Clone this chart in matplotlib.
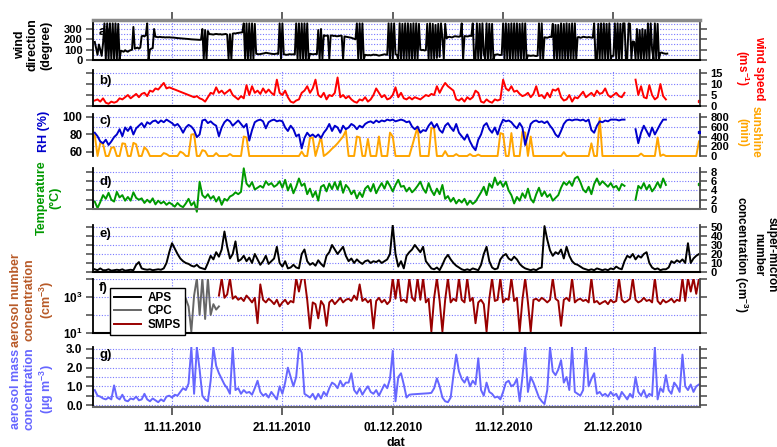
import numpy as np
import pandas as pd
import matplotlib
matplotlib.use('Agg')
import matplotlib.pyplot as plt
import matplotlib.dates as mdates

nan = np.nan

# wind direction, 3-hourly (00 .. 21 h), one day per row
# 2010-11-04 00:00 .. 2010-12-25 21:00
wind_dir = [
    175, 110, 50, 150, 100, 40, 160, 355,
    5, 355, 5, 355, 5, 355, 5, 355,
    5, 350, 10, 90, 85, 80, 95, 85,
    80, 90, 95, 100, 320, 110, 115, 120,
    110, 120, 230, 235, 228, 240, 355, 5,
    100, 110, 115, 300, 225, 222, 220, 224,
    222, 220, 221, 218, 220, 219, 220, 218,
    218, 217, 215, 214, 212, 211, 210, 209,
    208, 207, 205, 204, 203, 201, 200, 199,
    198, 197, 196, 195, 195, 196, 300, 10,
    290, 5, 280, 250, 250, 248, 246, 250,
    252, 250, 248, 250, 246, 248, 250, 252,
    245, 10, 250, 5, 255, 258, 256, 260,
    262, 264, 265, 268, 355, 5, 355, 5,
    355, 5, 355, 5, 350, 60, 58, 55,
    58, 60, 62, 65, 70, 68, 65, 62,
    60, 58, 57, 60, 62, 58, 355, 5,
    355, 55, 52, 50, 52, 56, 55, 54,
    55, 53, 355, 5, 355, 5, 355, 5,
    355, 5, 355, 5, 60, 58, 55, 57,
    58, 56, 290, 5, 300, 10, 240, 235,
    235, 238, 10, 236, 238, 232, 235, 230,
    230, 232, 236, 234, 5, 228, 225, 222,
    220, 218, 215, 210, 205, 200, 355, 5,
    355, 5, 355, 5, 50, 48, 46, 48,
    45, 48, 52, 50, 50, 46, 42, 45,
    48, 50, 55, 52, 50, 355, 5, 355,
    5, 355, 55, 50, 5, 355, 5, 350,
    10, 355, 5, 355, 5, 350, 10, 355,
    5, 355, 10, 350, 100, 95, 98, 92,
    95, 350, 10, 355, 5, 350, 15, 340,
    20, 350, 30, 355, 215, 10, 350, 210,
    220, 225, 222, 218, 225, 230, 228, 225,
    225, 230, 355, 5, 232, 230, 228, 230,
    235, 232, 355, 5, 10, 355, 5, 350,
    5, 355, 60, 10, 355, 5, 350, 10,
    350, 5, 50, 52, 55, 50, 48, 50,
    355, 5, 355, 10, 350, 5, 355, 5,
    355, 10, 355, 5, 350, 10, 355, 5,
    355, 5, 45, 42, 40, 42, 44, 40,
    38, 42, 355, 5, 355, 10, 220, 218,
    215, 220, 225, 222, 350, 15, 340, 5,
    340, 10, 355, 5, 350, 10, 355, 5,
    350, 10, 355, 5, 355, 10, 220, 222,
    215, 218, 225, 222, 220, 218, 222, 220,
    218, 215, 355, 5, 10, 350, 5, 355,
    5, 355, 10, 350, 5, 355, 10, 40,
    40, 355, 5, 355, 5, 350, 10, 355,
    355, 5, 15, 355, 350, 10, 180, 175,
    10, 300, 5, 290, 5, 300, 10, 290,
    15, 355, 5, 355, 100, 10, 355, 5,
    350, 10, 70, 72, 65, 62, 60, 62,
]

# 6-hourly values (00, 06, 12, 18 h), two days per row
# meteorology: 2010-11-04 00:00 .. 2010-12-25 18:00
wind_speed = [
    2.5, 3, 2, 3.5,      1.5, 1, 2, 1.5,
    2, 3.5, 3, 4,        5, 3.5, 4.5, 5.5,
    4, 5.5, 6, 4.5,      7, 6.5, 8, 7.5,
    9, 10.5, 8, 8.5,     8, 7.5, 7, 6.5,
    6, 5.5, 5, 4.5,      4, 4.5, 3.5, 3,
    2, 4, 6, 5.5,        8.5, 6, 7, 5.5,
    6.5, 7.5, 5, 4,      3, 4.5, 3.5, 9.5,
    5, 9, 6, 7,          5.5, 8, 6, 7.5,
    6, 5, 12, 6,         5, 7, 4, 2,
    1.5, 2.5, 3, 6,      7, 9, 6, 8,
    12, 5, 4, 6,         3, 5, 4.5, 6,
    13, 4, 5, 3.5,       4.5, 3, 2, 1.5,
    3, 2.5, 4, 2,        3, 5, 8, 6,
    4, 5, 3, 3.5,        5, 8.5, 4, 6,
    3.5, 3, 4, 3,        4, 3.5, 3, 4,
    5, 4.5, 5.5, 5,      9, 6, 8.5, 10.5,
    9, 8, 7, 3,          2.5, 3.5, 2, 4,
    3, 4, 7, 6,          2, 1.5, 3, 2,
    1.5, 3, 2.5, 3,      12, 8, 7, 9,
    6.5, 7, 5.5, 4.5,    5, 6, 4, 5.5,
    9, 4.5, 5, 3.5,      6, 4, 7.5, 7,
    8, 4, 2.5, 3,        5, 2, 4, 3.5,
    5, 6.5, 4, 5,        6, 4.5, 7, 5.5,
    6, 8, 5, 4,          5, 6, 4.5, 4,
    6, nan, nan, nan,    12, 5, 9, 4,
    3.5, 9.5, 5, 3,      4, 10, 4.5, 3,
]
rel_hum = [
    82, 78, 72, 70,      74, 68, 72, 77,
    80, 86, 78, 88,      84, 89, 80, 87,
    90, 93, 88, 94,      92, 95, 96, 93,
    96, 94, 97, 95,      93, 90, 92, 88,
    82, 88, 91, 89,      85, 77, 80, 96,
    97, 93, 95, 92,      90, 78, 88, 94,
    97, 95, 90, 93,      96, 92, 88, 92,
    73, 85, 94, 96,      97, 95, 87, 94,
    96, 97, 95, 96,      95, 88, 84, 90,
    86, 78, 80, 64,      76, 82, 78, 80,
    77, 80, 76, 82,      86, 92, 84, 90,
    88, 82, 90, 86,      88, 92, 90, 86,
    90, 88, 92, 94,      95, 93, 96, 94,
    96, 95, 97, 96,      97, 95, 96, 97,
    96, 94, 95, 89,      86, 89, 82, 85,
    84, 90, 94, 88,      92, 85, 82, 90,
    93, 88, 84, 92,      82, 78, 74, 80,
    72, 66, 62, 74,      80, 90, 93, 86,
    82, 88, 80, 90,      97, 95, 96, 94,
    90, 87, 93, 88,      68, 80, 92, 95,
    96, 94, 95, 93,      95, 90, 86, 80,
    77, 84, 92, 96,      97, 96, 97, 97,
    96, 97, 95, 97,      85, 82, 90, 95,
    94, 96, 95, 97,      97, 97, 96, 97,
    97, nan, nan, nan,   86, 70, 82, 90,
    84, 78, 88, 80,      86, 92, 97, 97,
]
temperature = [
    1.6, 0.2, 1.5, 3.0,  2.2, 3.5, 2.0, 1.6,
    3.7, 2.5, 3.0, 1.8,  2.6, 1.8, 3.6, 2.4,
    2.0, 2.3, 1.3, 2.0,  1.4, 2.3, 1.0, 1.8,
    1.2, 1.6, 0.9, 1.4,  1.0, 0.5, 1.3, 0.7,
    0.4, 1.2, 2.2, 0.8,  1.5, -0.6, 5.9, 3.0,
    2.4, 3.2, 2.2, 2.8,  1.6, 2.6, 0.9, 2.2,
    1.8, 2.7, 3.0, 3.6,  3.2, 3.7, 8.8, 5.5,
    4.8, 5.8, 4.2, 4.6,  5.0, 4.6, 6.0, 5.2,
    5.6, 4.8, 5.2, 6.0,  4.6, 6.3, 4.0, 5.4,
    3.4, 4.8, 6.6, 5.0,  5.5, 3.2, 4.4, 2.6,
    3.8, 1.8, 4.8, 5.2,  3.8, 5.5, 4.3, 5.8,
    4.2, 6.0, 3.5, 5.2,  4.5, 3.2, 4.0, 2.3,
    3.6, 2.6, 4.4, 5.0,  3.8, 5.4, 3.4, 4.6,
    5.6, 4.4, 6.0, 5.0,  3.8, 5.2, 6.3, 4.8,
    5.0, 3.8, 4.6, 3.6,  4.2, 5.0, 5.9, 4.4,
    3.5, 5.6, 4.0, 3.0,  4.4, 3.2, 5.2, 2.2,
    2.8, 1.6, 2.4, 1.2,  2.0, 1.4, 2.2, 0.9,
    1.8, 1.1, 1.6, 2.6,  3.6, 4.8, 3.0, 5.5,
    4.6, 6.8, 5.2, 6.0,  4.8, 5.9, 4.0, 3.0,
    1.2, 2.6, 1.8, 3.4,  2.4, 4.4, 2.2, 1.4,
    3.2, 4.6, 2.8, 3.8,  2.6, 3.2, 1.8, 2.4,
    3.0, 4.6, 5.8, 5.2,  6.0, 5.0, 6.6, 7.0,
    5.8, 4.2, 3.6, 4.8,  3.2, 5.4, 6.6, 5.2,
    6.0, 5.4, 4.8, 5.6,  4.6, 5.0, 4.0, 5.4,
    5.0, nan, nan, nan,  2.0, 5.0, 4.4, 5.6,
    4.2, 5.2, 3.8, 4.6,  5.8, 4.6, 6.6, 5.2,
]
# last isolated readings on 2010-12-28 18:00
edge_wind_speed, edge_rel_hum, edge_temperature = 2.3, 83, 5.4

# sunshine duration (min): 2010-11-04 00:00 .. 2010-12-28 18:00
sunshine = [
    430, 0, 270, 250,    0, 0, 170, 180,
    0, 0, 260, 250,      0, 0, 270, 240,
    0, 0, 180, 120,      0, 0, 0, 0,
    0, 60, 40, 0,        0, 0, 0, 90,
    60, 0, 0, 440,       450, 0, 0, 120,
    100, 0, 0, 0,        60, 0, 0, 0,
    0, 40, 0, 0,         0, 0, 400, 380,
    0, 0, 0, 0,          0, 0, 0, 0,
    0, 0, 0, 0,          0, 0, 0, 0,
    0, 0, 0, 90,         0, 0, 370, 380,
    0, 200, 400, 0,      40, 90, 150, 200,
    260, 330, 400, 520,  0, 0, 0, 400,
    380, 0, 0, 350,      0, 0, 0, 400,
    0, 0, 0, 480,        400, 0, 0, 0,
    0, 0, 0, 200,        400, 600, 0, 0,
    0, 0, 580, 560,      0, 0, 0, 100,
    0, 0, 0, 40,         0, 0, 0, 0,
    40, 0, 0, 30,        0, 0, 0, 0,
    0, 0, 0, 470,        450, 0, 0, 470,
    0, 0, 0, 500,        480, 0, 400, 0,
    0, 0, 0, 0,          0, 0, 0, 0,
    0, 0, 80, 0,         0, 0, 0, 0,
    0, 0, 0, 0,          260, 0, 0, 780,
    0, 0, 0, 0,          0, 0, 0, 0,
    0, 0, 0, 0,          0, 0, 50, 0,
    0, 0, 0, 0,          380, 0, 30, 0,
    0, 0, 0, 0,          0, 0, 0, 0,
    0, 0, 0, 300,
]
# APS super-micron number (cm-3): 2010-11-04 00:00 .. 2010-12-28 18:00
super_micron = [
    3, 2, 4, 2,          2, 3, 1.5, 2,
    2.5, 2, 3, 1.5,      2, 2.5, 2, 8,
    11, 4, 3, 2.5,       3, 2, 2.5, 3,
    2.5, 4, 10, 22,      32, 26, 20, 15,
    12, 10, 9, 7,        6, 8, 5, 4,
    3, 10, 18, 14,       22, 17, 25, 45,
    28, 15, 20, 34,      12, 14, 18, 12,
    16, 10, 20, 14,      8, 12, 18, 9,
    12, 15, 28, 10,      6, 12, 4, 5,
    8, 5, 4, 20,         25, 12, 8, 10,
    7, 13, 9, 6,         18, 22, 30, 25,
    20, 24, 28, 18,      12, 15, 10, 14,
    11, 9, 12, 13,       10, 12, 11, 13,
    10, 12, 14, 20,      52, 20, 6, 12,
    4, 18, 22, 25,       30, 26, 22, 28,
    12, 8, 4, 3,         5, 2, 8, 15,
    19, 14, 10, 7,       5, 3, 2, 3,
    2, 4, 3, 2,          8, 20, 28, 12,
    5, 3, 4, 14,         18, 20, 15, 13,
    17, 14, 9, 6,        4, 3, 2, 3,
    2, 4, 5, 51,         36, 24, 18, 22,
    20, 25, 15, 28,      18, 12, 9, 8,
    6, 4, 3, 2,          3, 2, 4, 3,
    2, 3, 2, 4,          3, 6, 4, 3,
    12, 18, 16, 20,      14, 18, 16, 20,
    22, 10, 5, 3,        4, 2, 3, 3,
    5, 12, 10, 13,       11, 14, 10, 32,
    10, 15, 18, 20,
]
# CPC number (cm-3): 2010-11-12 06:00 .. 2010-11-15 06:00
cpc_number = [800, 300, 12, 1200, 11000, 100, 11000, 60, 11000, 100, 400, 200, 300]
# SMPS number (cm-3): 2010-11-15 06:00 .. 2010-12-28 18:00
smps_number = [
    1200, 11000, 900,
    1400, 11000, 800, 1100,   700, 900, 600, 1200,
    800, 500, 900, 35,        5000, 700, 500, 800,
    600, 400, 700, 300,       500, 700, 400, 600,
    500, 11000, 2000, 11000,  11000, 700, 18, 500,
    400, 65, 600, 350,        25, 500, 700, 400,
    600, 900, 500, 700,       800, 600, 1200, 700,
    5000, 600, 800, 500,      700, 18, 600, 900,
    500, 700, 400, 600,       11000, 800, 11000, 600,
    700, 500, 11000, 900,     600, 11000, 700, 11000,
    500, 800, 12, 900,        11000, 600, 12, 700,
    11000, 500, 800, 600,     11000, 700, 500, 11000,
    600, 900, 35, 500,        700, 400, 12, 800,
    11000, 600, 700, 11000,   500, 800, 700, 11000,
    600, 900, 12, 700,        11000, 500, 12, 700,
    800, 600, 900, 700,       500, 700, 11000, 800,
    600, 25, 700, 900,        600, 11000, 500, 700,
    800, 600, 700, 500,       11000, 500, 600, 400,
    500, 600, 400, 700,       500, 600, 11000, 700,
    500, 600, 800, 11000,     700, 500, 600, 900,
    600, 700, 500, 11000,     600, 400, 700, 500,
    600, 800, 500, 700,       600, 11000, 600, 11000,
    2000, 11000, 1500, 11000,
]
# aerosol mass (ug m-3): 2010-11-04 00:00 .. 2010-12-28 18:00
aerosol_mass = [
    0.8, 0.5, 0.45, 0.35,   0.3, 0.4, 0.3, 1.05,
    0.4, 0.3, 0.55, 0.25,   0.2, 0.35, 0.3, 0.45,
    0.25, 0.3, 0.6, 0.3,    0.2, 0.35, 0.25, 0.15,
    0.3, 0.2, 0.45, 0.5,    0.4, 0.55, 0.5, 0.7,
    0.9, 0.8, 1.15, 3.1,    0.6, 3.1, 1.9, 0.5,
    0.3, 0.2, 1.3, 3.1,     2.1, 1.7, 1.4, 1.1,
    0.9, 0.6, 3.1, 0.8,     0.9, 0.6, 0.8, 0.65,
    0.7, 0.55, 0.9, 1.3,    0.7, 0.5, 0.6, 0.4,
    0.7, 0.5, 0.3, 1.0,     0.6, 1.2, 2.0, 1.5,
    1.0, 1.5, 3.1, 2.8,     0.6, 0.5, 0.4, 0.6,
    0.3, 0.6, 0.35, 0.7,    0.5, 0.9, 1.2, 1.1,
    0.9, 1.3, 1.0, 1.2,     1.2, 1.7, 0.8, 0.6,
    0.9, 0.55, 0.8, 1.0,    0.7, 0.6, 0.8, 0.5,
    0.8, 1.1, 0.9, 1.4,     2.9, 0.2, 1.5, 1.7,
    1.1, 0.4, 0.55, 0.57,   0.58, 0.59, 0.6, 0.61,
    0.62, 0.63, 0.65, 0.9,  1.43, 1.0, 0.4, 0.2,
    0.15, 0.4, 1.6, 2.7,    1.8, 1.4, 1.2, 1.5,
    1.0, 1.3, 1.1, 2.5,     0.8, 0.5, 1.2, 0.7,
    0.6, 0.4, 0.45, 0.3,    0.7, 1.2, 1.3, 1.0,
    1.1, 1.4, 0.2, 1.5,     3.1, 0.7, 1.5, 1.2,
    0.8, 0.4, 0.2, 0.05,    0.8, 3.1, 1.8, 1.6,
    1.9, 2.4, 1.2, 1.5,     0.8, 3.1, 0.7, 0.6,
    0.5, 0.8, 3.1, 1.0,     1.4, 1.7, 0.6, 0.7,
    0.5, 0.6, 0.45, 0.7,    0.5, 0.6, 0.3, 0.7,
    0.5, 0.3, 0.6, 0.4,     1.5, 0.7, 0.5, 0.8,
    0.4, 0.6, 0.5, 3.1,     0.3, 0.9, 0.7, 1.6,
    0.8, 0.6, 1.2, 1.0,     0.7, 2.7, 1.0, 0.8,
    1.1, 0.7, 1.0, 1.1,
]

date_ticks = pd.to_datetime(['2010-11-11', '2010-11-21', '2010-12-01',
                             '2010-12-11', '2010-12-21'])
edge_time = pd.Timestamp('2010-12-28 18:00')


def series_time(start, values, step='6h'):
    return pd.date_range(start, periods=len(values), freq=step)


plt.rcParams['font.family'] = ['Liberation Sans', 'DejaVu Sans']
plt.rcParams['font.weight'] = 'bold'
plt.rcParams['font.size'] = 8.5
plt.rcParams['mathtext.fontset'] = 'custom'
plt.rcParams['mathtext.rm'] = 'Liberation Sans:bold'
plt.rcParams['mathtext.it'] = 'Liberation Sans:bold'
plt.rcParams['mathtext.bf'] = 'Liberation Sans:bold'
plt.rcParams['mathtext.default'] = 'bf'

W, H = 777, 447
fig = plt.figure(figsize=(W / 100, H / 100), dpi=100)
x_lo, x_hi = pd.Timestamp('2010-11-03 20:10'), pd.Timestamp('2010-12-28 20:10')

GRID = dict(color='#7878ff', linestyle=(0, (1, 1.5)), linewidth=0.8, zorder=0)
TICK = '#555555'
LW = 1.4


def panel(top, bottom):
    return fig.add_axes([93 / W, 1 - bottom / H, 607 / W, (bottom - top) / H])


def frame(ax, ylim, ticks, grid, left=False, right=False, labels=None,
          log=False, vgrid=True, bottom_color='black'):
    if log:
        ax.set_yscale('log')
    ax.set_xlim(x_lo, x_hi)
    ax.set_ylim(*ylim)
    ax.set_yticks(ticks)
    if labels is not None:
        ax.set_yticklabels(labels)
    ax.minorticks_off()
    ax.tick_params(axis='x', which='both', bottom=False, top=False,
                   labelbottom=False)
    ax.tick_params(axis='y', direction='out', length=5, width=1.2, color=TICK,
                   left=True, right=True, labelleft=left, labelright=right,
                   pad=2.5, labelsize=8.5)
    ax.spines['top'].set_visible(False)
    ax.spines['left'].set_linewidth(1.3)
    ax.spines['right'].set_linewidth(1.3)
    ax.spines['right'].set_color('#444444')
    ax.spines['bottom'].set_linewidth(1.5)
    ax.spines['bottom'].set_color(bottom_color)
    if vgrid:
        for t in date_ticks:
            ax.axvline(t, **GRID)
    for g in grid:
        ax.axhline(g, **GRID)


def ftext(x, y, s, **kw):
    kw.setdefault('ha', 'center')
    kw.setdefault('va', 'center')
    fig.text(x / W, 1 - y / H, s, fontweight='bold', **kw)


# a) wind direction
ax_a = panel(20, 60)
ax_a.plot(series_time('2010-11-04', wind_dir, '3h'), wind_dir, color='black',
          lw=LW)
frame(ax_a, (0, 387), [0, 100, 200, 300], range(50, 400, 50), left=True)
ax_a.tick_params(axis='y', labelsize=8)
ax_a.spines['top'].set_visible(True)
ax_a.spines['top'].set_color('#8a8a8a')
ax_a.spines['top'].set_linewidth(2.5)
ax_a.set_xticks(date_ticks)
ax_a.tick_params(axis='x', top=True, direction='out', length=6, width=1.3,
                 color=TICK, labeltop=False)

# b) wind speed
ax_b = panel(70, 106)
ax_b.plot(series_time('2010-11-04', wind_speed), wind_speed, color='#ff0000', lw=LW)
ax_b.plot([edge_time], [edge_wind_speed], 's', color='#ff0000', ms=2)
frame(ax_b, (0, 16.4), [0, 5, 10, 15], [5, 10, 15], right=True)

# c) relative humidity and sunshine
ax_c = panel(114, 156)
ax_s = ax_c.twinx()
ax_c.set_zorder(ax_s.get_zorder() + 1)
ax_c.patch.set_visible(False)
ax_s.plot(series_time('2010-11-04', sunshine), sunshine, color='#ffa500',
          lw=LW, clip_on=False)
ax_c.plot(series_time('2010-11-04', rel_hum), rel_hum, color='#0000cc', lw=LW)
ax_c.plot([edge_time], [edge_rel_hum], 's', color='#0000cc', ms=2)
frame(ax_c, (55.4, 103.4), [60, 80, 100], [], left=True, vgrid=False)
frame(ax_s, (0, 862), [0, 200, 400, 600, 800], [200, 400, 600, 800], right=True)
ax_c.tick_params(axis='y', right=False)
ax_s.tick_params(axis='y', left=False)
ax_c.spines['right'].set_visible(False)
ax_s.spines['left'].set_visible(False)
ax_c.spines['bottom'].set_visible(False)
ax_s.spines['bottom'].set_visible(False)

# d) temperature
ax_d = panel(168, 209)
ax_d.plot(series_time('2010-11-04', temperature), temperature, color='#009900',
          lw=LW, clip_on=False)
ax_d.plot([edge_time], [edge_temperature], 's', color='#009900', ms=2)
frame(ax_d, (0, 8.86), [0, 2, 4, 6, 8], [2, 4, 6, 8], right=True,
      bottom_color='#666666')

# e) super-micron number concentration
ax_e = panel(225, 272)
aps_line, = ax_e.plot(series_time('2010-11-04', super_micron), super_micron,
                      color='black', lw=LW)
frame(ax_e, (0, 52.2), range(0, 60, 10), range(10, 60, 10), right=True)

# f) aerosol number concentration
ax_f = panel(279, 333)
cpc_line, = ax_f.plot(series_time('2010-11-12 06:00', cpc_number), cpc_number,
                      color='#666666', lw=LW)
smps_line, = ax_f.plot(series_time('2010-11-15 06:00', smps_number), smps_number,
                       color='#990000', lw=LW)
frame(ax_f, (10, 1e4), [10, 100, 1000, 10000], [100, 1000, 10000], left=True,
      labels=[r'$10^{1}$', '', r'$10^{3}$', ''], log=True)
leg = ax_f.legend([aps_line, cpc_line, smps_line], ['APS', 'CPC', 'SMPS'],
                  loc='upper left', bbox_to_anchor=(0.028, 0.83),
                  borderaxespad=0, fancybox=False, edgecolor='black',
                  framealpha=1, fontsize=8.5, handlelength=2.3,
                  handletextpad=0.6, labelspacing=0.15, borderpad=0.3)
leg.get_frame().set_linewidth(1.0)

# g) aerosol mass concentration
ax_g = panel(347, 407)
ax_g.plot(series_time('2010-11-04', aerosol_mass), aerosol_mass,
          color='#6666ff', lw=LW)
frame(ax_g, (-0.107, 3.107), np.arange(0, 3.01, 0.5), np.arange(0, 3.01, 0.5),
      left=True, labels=['0.0', '', '1.0', '', '2.0', '', '3.0'],
      bottom_color='#666666')
ax_g.set_xticks(date_ticks)
ax_g.xaxis.set_major_formatter(mdates.DateFormatter('%d.%m.%Y'))
ax_g.tick_params(axis='x', bottom=True, labelbottom=True, direction='out',
                 length=6, width=1.3, color=TICK, pad=5, labelsize=8.5)

# right-hand scales are stacked tightly
for ax in (ax_b, ax_s, ax_d, ax_e):
    ax.tick_params(axis='y', labelsize=8)

# panel letters
for (y, s) in [(26, 'a)'), (75, 'b)'), (115, 'c)'), (176, 'd)'),
               (228, 'e)'), (282, 'f)'), (349, 'g)')]:
    ftext(99, y, s, ha='left', va='top', fontsize=9.5)

# axis titles
ftext(33, 45, 'wind\ndirection\n(degree)', rotation=90, fontsize=9, linespacing=1.15)
ftext(44, 131, 'RH (%)', rotation=90, fontsize=9, color='#0000cc')
ftext(49, 198, 'Temperature\n(°C)', rotation=90, fontsize=9, color='#009900',
      linespacing=1.15)
ftext(33, 300, 'aerosol number\nconcentration\n(cm$^{-3}$)', rotation=90,
      fontsize=9, color='#b85a28', linespacing=1.15)
ftext(33, 389, 'aerosol mass\nconcentration\n(µg m$^{-3}$)', rotation=90,
      fontsize=9, color='#6666ff', linespacing=1.15)
ftext(749, 68, 'wind speed\n(ms$^{-1}$)', rotation=270, fontsize=8.5,
      color='#ff0000', linespacing=1.15)
ftext(749, 132, 'sunshine\n(min)', rotation=270, fontsize=8.5,
      color='#ffa500', linespacing=1.15)
ftext(755, 255, 'super-micron\nnumber\nconcentration (cm$^{-3}$)', rotation=270,
      fontsize=8.5, linespacing=1.15)
ftext(396, 443, 'dat', fontsize=9)

fig.savefig('out.png', dpi=100)
